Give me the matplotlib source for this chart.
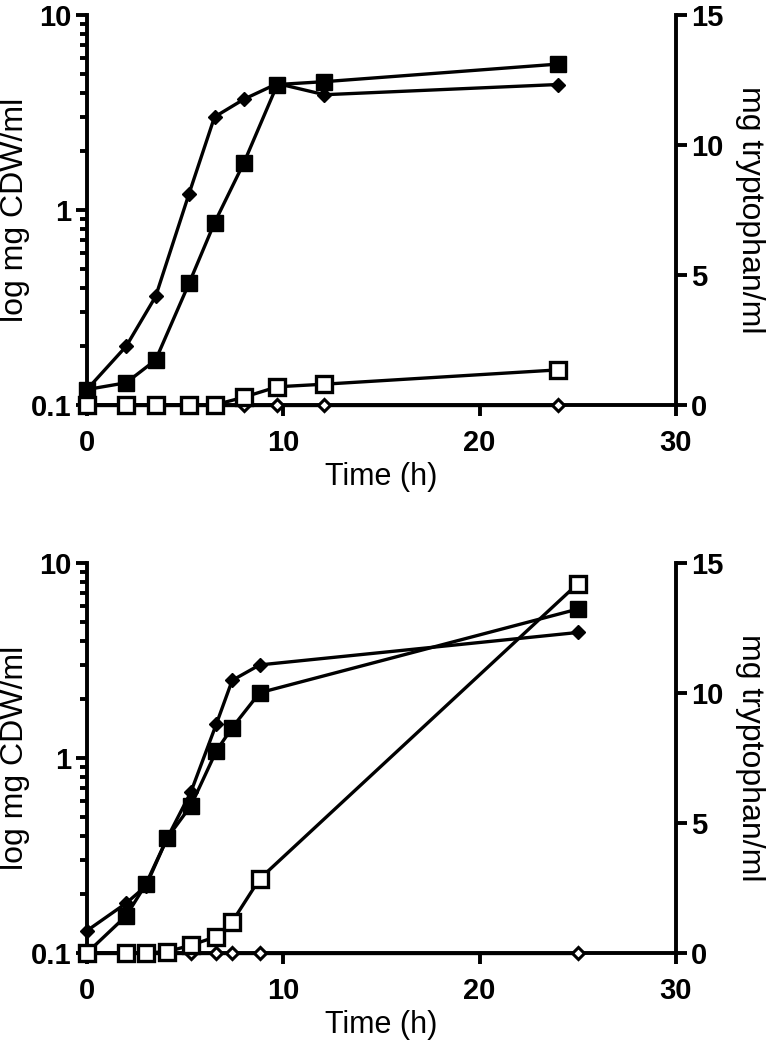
import numpy as np
import matplotlib.pyplot as plt

plt.rcParams['font.family'] = ['Liberation Sans', 'DejaVu Sans']

# top panel
t_top = [0, 2, 3.5, 5.2, 6.5, 8, 9.7, 12.1, 24]
cdw_dia_top = [0.12, 0.20, 0.36, 1.21, 3.0, 3.7, 4.45, 3.9, 4.4]
cdw_sq_top = [0.12, 0.13, 0.17, 0.42, 0.86, 1.75, 4.4, 4.55, 5.6]
trp_sq_top = [0, 0, 0, 0, 0, 0.3, 0.7, 0.8, 1.35]
trp_dia_top = [0, 0, 0, 0, 0, 0, 0, 0, 0]

# bottom panel
t_bot = [0, 2, 3, 4.1, 5.3, 6.6, 7.4, 8.8, 25]
cdw_dia_bot = [0.13, 0.18, 0.22, 0.39, 0.67, 1.5, 2.5, 3.0, 4.4]
cdw_sq_bot = [0.1, 0.155, 0.225, 0.39, 0.57, 1.09, 1.43, 2.16, 5.8]
trp_sq_bot = [0, 0, 0, 0.05, 0.3, 0.63, 1.2, 2.85, 14.2]
trp_dia_bot = [0, 0, 0, 0, 0, 0, 0, 0, 0]

LW = 2.4
SP = 2.8


def style_axis(ax, side):
    for s in ['top', 'right', 'left', 'bottom']:
        ax.spines[s].set_visible(False)
    ax.spines[side].set_visible(True)
    ax.spines[side].set_linewidth(SP)
    if side == 'left':
        ax.spines['bottom'].set_visible(True)
        ax.spines['bottom'].set_linewidth(SP)


def panel(fig, rect, t, dia, sq, osq, odia):
    ax = fig.add_axes(rect)
    ax.set_yscale('log')
    ax.set_ylim(0.1, 10)
    ax.set_xlim(0, 30)
    style_axis(ax, 'left')
    ax.set_yticks([0.1, 1, 10])
    ax.set_yticklabels(['0.1', '1', '10'])
    ax.set_xticks([0, 10, 20, 30])
    ax.tick_params(which='major', direction='out', length=8, width=SP,
                   labelsize=21, pad=3)
    ax.tick_params(axis='x', pad=9)
    ax.tick_params(which='minor', direction='out', length=5, width=SP)
    ax.tick_params(axis='x', which='minor', bottom=False)
    for lab in ax.get_xticklabels() + ax.get_yticklabels():
        lab.set_fontweight('bold')
    ax.set_ylabel('log mg CDW/ml', fontsize=23, labelpad=1)
    ax.set_xlabel('Time (h)', fontsize=22, labelpad=4)

    ax.plot(t, dia, color='black', lw=LW, marker='D', ms=7.5, mfc='black',
            mec='black', clip_on=False, zorder=4)
    ax.plot(t, sq, color='black', lw=LW, marker='s', ms=12, mfc='black',
            mec='black', clip_on=False, zorder=4)

    ax2 = ax.twinx()
    ax2.set_ylim(0, 15)
    ax2.set_xlim(0, 30)
    style_axis(ax2, 'right')
    ax2.set_yticks([0, 5, 10, 15])
    ax2.tick_params(direction='out', length=8, width=SP, labelsize=21, pad=3)
    for lab in ax2.get_yticklabels():
        lab.set_fontweight('bold')
    ax2.set_ylabel('mg tryptophan/ml', fontsize=23, rotation=270, labelpad=30)

    ax2.plot(t, odia, color='black', lw=LW, marker='D', ms=6.5, mfc='white',
             mec='black', mew=2.2, clip_on=False, zorder=4)
    ax2.plot(t, osq, color='black', lw=LW, marker='s', ms=12, mfc='white',
             mec='black', mew=2.4, clip_on=False, zorder=4)
    return ax, ax2


fig = plt.figure(figsize=(7.76, 10.4), dpi=100)
panel(fig, [0.112, 0.6106, 0.759, 0.375],
      t_top, cdw_dia_top, cdw_sq_top, trp_sq_top, trp_dia_top)
panel(fig, [0.112, 0.0837, 0.759, 0.375],
      t_bot, cdw_dia_bot, cdw_sq_bot, trp_sq_bot, trp_dia_bot)

fig.savefig('out.png', dpi=100)
